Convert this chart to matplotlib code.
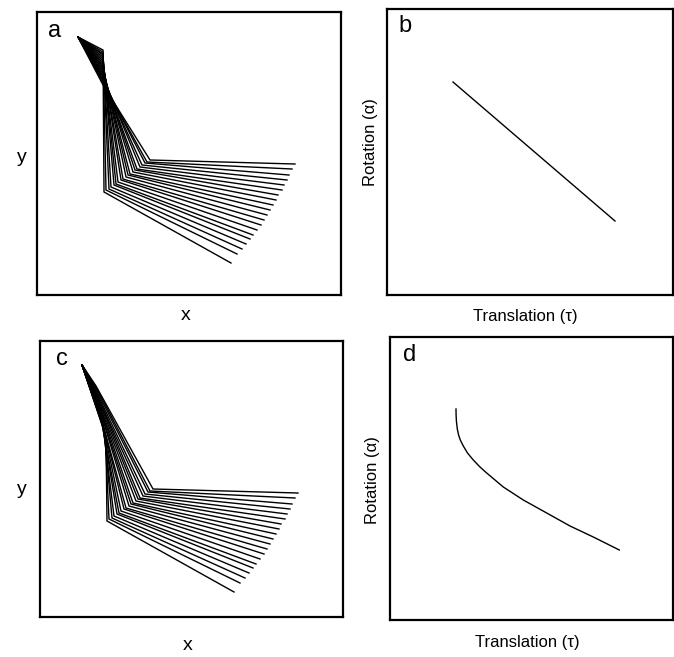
import matplotlib
matplotlib.use("Agg")
import matplotlib.pyplot as plt

plt.rcParams['font.family'] = ['Liberation Sans', 'DejaVu Sans']

# ---- panels a / c : stick configurations (box pixel units, y measured downward) ----
tip_a = (41, 25)
p1_a_x = [66] * 20
p1_a_y = [38, 40, 42, 43, 45, 47, 49, 51, 53, 55, 56, 58, 60, 62, 64, 65, 67, 69, 71, 73]

tip_c = (42, 24)
p1_c_x = [66, 65, 64, 63, 62, 61, 61, 60, 59, 59, 58, 58, 57, 57, 57, 56, 56, 56, 56, 56]
p1_c_y = [96, 92, 88, 85, 81, 78, 75, 72, 69, 66, 63, 61, 58, 56, 54, 52, 50, 48, 46, 45]

elbow_x = [67, 69, 72, 74, 77, 79, 81, 84, 86, 89, 91, 93, 96, 98, 100, 103, 105, 108, 110, 113]
elbow_y = [180, 178, 177, 175, 173, 172, 170, 168, 167, 165, 163, 162, 160, 158, 157, 155, 153, 151, 150, 148]

end_x = [194, 200, 205, 209, 213, 216, 220, 224, 227, 230, 233, 236, 239, 241, 245, 247, 250, 252, 255, 258]
end_y = [251, 242, 237, 232, 227, 223, 218, 213, 208, 203, 198, 193, 188, 183, 178, 173, 168, 163, 157, 152]

# ---- panel b : straight line ; panel d : curve (translation, rotation) ----
b_tau = [66, 228]
b_alpha = [213, 74]
d_tau = [66, 66.1, 66.4, 67.3, 68.6, 70.3, 73.3, 77.5, 83.3, 90, 96.7, 113.3, 133.3, 156.7, 180, 203.3, 229.3]
d_alpha = [211, 205, 199, 191, 185, 180, 174, 167, 160, 153, 147, 133, 120, 107, 94, 83, 70]

W, H = 674, 657
fig = plt.figure(figsize=(W / 100, H / 100), dpi=100)


def box(l, t, r, b):
    return [l / W, 1 - b / H, (r - l) / W, (b - t) / H]


def style(ax):
    ax.set_xticks([])
    ax.set_yticks([])
    for s in ax.spines.values():
        s.set_linewidth(1.6)
        s.set_color('black')


def arm(ax, tip, p1x, p1y, w, h):
    for k in range(len(elbow_x)):
        xs = [tip[0], p1x[k], elbow_x[k], end_x[k]]
        ys = [tip[1], p1y[k], elbow_y[k], end_y[k]]
        ax.plot(xs, ys, color='black', lw=1.0, solid_joinstyle='miter')
    ax.set_xlim(0, w)
    ax.set_ylim(h, 0)
    style(ax)


ax_a = fig.add_axes(box(37, 12, 341, 295))
arm(ax_a, tip_a, p1_a_x, p1_a_y, 304, 283)

ax_c = fig.add_axes(box(40, 341, 343, 617))
arm(ax_c, tip_c, p1_c_x, p1_c_y, 303, 276)

ax_b = fig.add_axes(box(387, 9, 673, 295))
ax_b.plot(b_tau, b_alpha, color='black', lw=1.0)
ax_b.set_xlim(0, 286)
ax_b.set_ylim(0, 286)
style(ax_b)

ax_d = fig.add_axes(box(390, 337, 673, 620))
ax_d.plot(d_tau, d_alpha, color='black', lw=1.0)
ax_d.set_xlim(0, 283)
ax_d.set_ylim(0, 283)
style(ax_d)


def ftext(x, y, s, **kw):
    fig.text(x / W, 1 - y / H, s, ha='center', va='center', **kw)


for (x, y, s) in [(55, 31, 'a'), (405, 26, 'b'), (62, 359, 'c'), (410, 355, 'd')]:
    ftext(x, y, s, fontsize=17)

ftext(22, 158, 'y', fontsize=14)
ftext(22, 490, 'y', fontsize=14)
ftext(186, 316, 'x', fontsize=14)
ftext(188, 645, 'x', fontsize=14)
ftext(525, 316, 'Translation (τ)', fontsize=12)
ftext(527, 643, 'Translation (τ)', fontsize=12)
ftext(370, 142, 'Rotation (α)', fontsize=12, rotation=90)
ftext(373, 480, 'Rotation (α)', fontsize=12, rotation=90)

fig.savefig('out.png', dpi=100)
